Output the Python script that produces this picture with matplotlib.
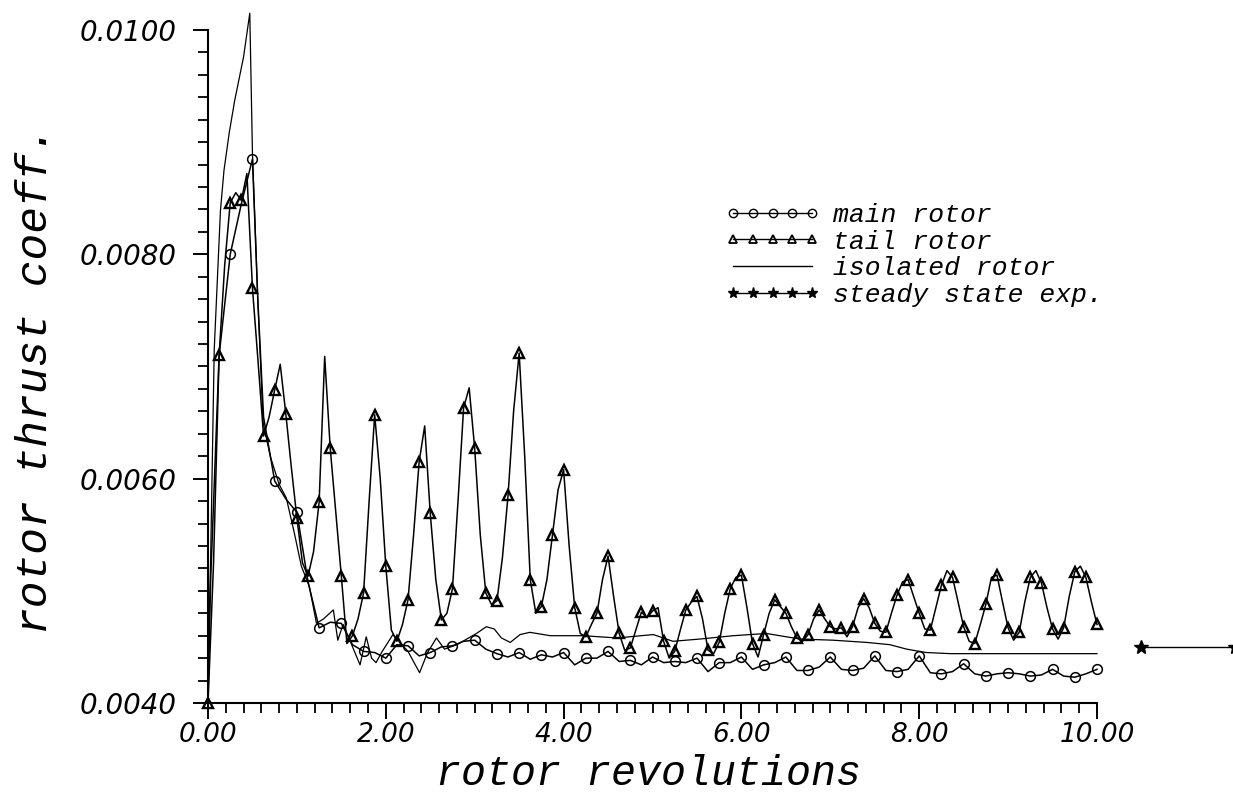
import numpy as np
import matplotlib
matplotlib.use("Agg")
import matplotlib.pyplot as plt
from matplotlib.lines import Line2D
from matplotlib.ticker import MultipleLocator

# ---------------- data (thrust coefficient in units of 1e-3) ----------------
tail_rev = np.linspace(0.0, 10.0, 161)
tail_ct = [
    4.00, 5.25, 7.10, 7.90, 8.46, 8.55, 8.48, 8.72, 7.70, 7.05,
    6.38, 6.55, 6.79, 7.02, 6.58, 6.10, 5.65, 5.25, 5.13, 5.35,
    5.79, 7.09, 6.27, 5.70, 5.13, 4.53, 4.60, 4.75, 4.98, 5.80,
    6.57, 6.00, 5.22, 4.65, 4.55, 4.70, 4.92, 5.50, 6.15, 6.47,
    5.69, 5.10, 4.74, 4.80, 5.02, 5.80, 6.63, 6.81, 6.27, 5.50,
    4.98, 4.88, 4.91, 5.30, 5.85, 6.60, 7.12, 6.20, 5.10, 4.80,
    4.86, 5.10, 5.50, 5.90, 6.08, 5.40, 4.85, 4.62, 4.59, 4.70,
    4.80, 5.10, 5.31, 4.95, 4.62, 4.47, 4.49, 4.65, 4.81, 4.76,
    4.82, 4.85, 4.55, 4.40, 4.46, 4.65, 4.83, 4.90, 4.95, 4.75,
    4.47, 4.44, 4.54, 4.80, 5.02, 5.12, 5.14, 4.85, 4.53, 4.41,
    4.61, 4.80, 4.92, 4.86, 4.80, 4.68, 4.58, 4.55, 4.61, 4.75,
    4.83, 4.75, 4.68, 4.66, 4.67, 4.59, 4.68, 4.85, 4.93, 4.85,
    4.71, 4.64, 4.63, 4.80, 4.96, 5.08, 5.10, 4.95, 4.80, 4.66,
    4.65, 4.85, 5.05, 5.18, 5.12, 4.90, 4.68, 4.55, 4.53, 4.70,
    4.88, 5.12, 5.14, 4.90, 4.67, 4.56, 4.63, 4.90, 5.12, 5.18,
    5.07, 4.85, 4.66, 4.57, 4.67, 4.95, 5.17, 5.22, 5.12, 4.90,
    4.70,
]

main_rev = [
    0.0, 0.03, 0.125, 0.25, 0.375, 0.5, 0.56, 0.625, 0.75, 0.875,
    1.0, 1.125, 1.25, 1.375, 1.5, 1.625, 1.75, 1.875, 2.0, 2.125,
    2.25, 2.375, 2.5, 2.625, 2.75, 2.875, 3.0, 3.125, 3.25, 3.375,
    3.5, 3.625, 3.75, 3.875, 4.0, 4.125, 4.25, 4.375, 4.5, 4.625,
    4.75, 4.875, 5.0, 5.125, 5.25, 5.375, 5.5, 5.625, 5.75, 5.875,
    6.0, 6.125, 6.25, 6.375, 6.5, 6.625, 6.75, 6.875, 7.0, 7.125,
    7.25, 7.375, 7.5, 7.625, 7.75, 7.875, 8.0, 8.125, 8.25, 8.375,
    8.5, 8.625, 8.75, 8.875, 9.0, 9.125, 9.25, 9.375, 9.5, 9.625,
    9.75, 9.875, 10.0,
]
main_ct = [
    4.05, 5.10, 7.10, 8.00, 8.45, 8.85, 7.60, 6.55, 5.98, 5.82,
    5.70, 5.08, 4.67, 4.72, 4.71, 4.52, 4.46, 4.45, 4.40, 4.52,
    4.51, 4.42, 4.45, 4.50, 4.51, 4.55, 4.56, 4.48, 4.44, 4.41,
    4.45, 4.39, 4.43, 4.41, 4.45, 4.34, 4.40, 4.40, 4.46, 4.37,
    4.38, 4.34, 4.41, 4.36, 4.37, 4.36, 4.40, 4.28, 4.36, 4.36,
    4.41, 4.30, 4.34, 4.36, 4.41, 4.29, 4.29, 4.32, 4.41, 4.30,
    4.29, 4.31, 4.42, 4.29, 4.28, 4.30, 4.42, 4.27, 4.26, 4.28,
    4.35, 4.26, 4.24, 4.26, 4.27, 4.26, 4.24, 4.25, 4.30, 4.24,
    4.23, 4.26, 4.30,
]

iso_rev = [
    0.0, 0.03, 0.07, 0.14, 0.18, 0.24, 0.30, 0.40, 0.47, 0.50,
    0.56, 0.62, 0.70, 0.80, 0.88, 0.97, 1.05, 1.14, 1.22, 1.30,
    1.41, 1.46, 1.52, 1.60, 1.71, 1.78, 1.84, 1.89, 1.96, 2.08,
    2.15, 2.25, 2.38, 2.47, 2.57, 2.66, 2.80, 3.02, 3.13, 3.22,
    3.30, 3.40, 3.51, 3.62, 3.85, 4.22, 4.60, 5.01, 5.23, 5.53,
    5.91, 6.28, 6.66, 7.03, 7.41, 7.67, 7.86, 8.08, 8.35, 10.0,
]
iso_ct = [
    4.30, 5.30, 7.15, 8.39, 8.75, 9.09, 9.37, 9.76, 10.15, 8.90,
    7.60, 6.50, 6.20, 5.95, 5.83, 5.52, 5.22, 5.04, 4.71, 4.75,
    4.83, 4.56, 4.70, 4.55, 4.34, 4.59, 4.40, 4.36, 4.46, 4.61,
    4.55, 4.46, 4.27, 4.45, 4.58, 4.48, 4.52, 4.62, 4.68, 4.66,
    4.58, 4.54, 4.61, 4.63, 4.60, 4.60, 4.58, 4.61, 4.55, 4.57,
    4.60, 4.62, 4.57, 4.56, 4.54, 4.52, 4.48, 4.45, 4.44, 4.44,
]

exp_rev = [10.5, 11.55]
exp_ct = [4.50, 4.50]

x_ticks = [0, 2, 4, 6, 8, 10]
x_labels = ["0.00", "2.00", "4.00", "6.00", "8.00", "10.00"]
y_ticks = [0.0040, 0.0060, 0.0080, 0.0100]
y_labels = ["0.0040", "0.0060", "0.0080", "0.0100"]

series_labels = ["main rotor", "tail rotor", "isolated rotor", "steady state exp."]

SCALE = 1e-3

# ---------------- figure ----------------
W, H = 1233, 795
fig = plt.figure(figsize=(W / 100, H / 100), dpi=100)
ax = fig.add_axes([208 / W, 1 - 703 / H, 889 / W, 673 / H])

ax.plot(iso_rev, np.array(iso_ct) * SCALE, color="black", lw=0.9,
        clip_on=False, zorder=3)

main_marks = [i for i, r in enumerate(main_rev)
              if r > 0 and abs(r / 0.25 - round(r / 0.25)) < 1e-6]
ax.plot(main_rev, np.array(main_ct) * SCALE, color="black", lw=1.1,
        marker="o", ms=7, mfc="none", mec="black", mew=1.1,
        markevery=main_marks, clip_on=False, zorder=4)

ax.plot(tail_rev, np.array(tail_ct) * SCALE, color="black", lw=1.1,
        marker="^", ms=7, mfc="none", mec="black", mew=1.7,
        markevery=2, clip_on=False, zorder=5)

ax.plot(exp_rev, np.array(exp_ct) * SCALE, color="black", lw=1.0,
        marker="*", ms=10, mfc="black", mec="black",
        clip_on=False, zorder=5)

ax.set_xlim(0, 10)
ax.set_ylim(0.0040, 0.0100)

for s in ("top", "right"):
    ax.spines[s].set_visible(False)
for s in ("left", "bottom"):
    ax.spines[s].set_linewidth(1.5)

ax.set_xticks(x_ticks)
ax.set_xticklabels(x_labels)
ax.set_yticks(y_ticks)
ax.set_yticklabels(y_labels)
ax.xaxis.set_minor_locator(MultipleLocator(0.2))
ax.yaxis.set_minor_locator(MultipleLocator(0.0002))

ax.tick_params(axis="x", which="major", direction="out", length=11.5, width=1.4, pad=2)
ax.tick_params(axis="x", which="minor", direction="out", length=7.2, width=1.3)
ax.tick_params(axis="y", which="major", direction="out", length=10.8, width=1.4, pad=12)
ax.tick_params(axis="y", which="minor", direction="out", length=7.2, width=1.3)

for lbl in ax.get_xticklabels():
    lbl.set_fontfamily("DejaVu Sans")
    lbl.set_fontstyle("oblique")
    lbl.set_fontsize(19)
for lbl in ax.get_yticklabels():
    lbl.set_fontfamily("DejaVu Sans")
    lbl.set_fontstyle("oblique")
    lbl.set_fontsize(20)

fig.text(648 / W, 1 - 794 / H, "rotor revolutions", ha="center", va="bottom",
         family="Liberation Mono", style="italic", size=30)
fig.text(36 / W, 1 - 380 / H, "rotor thrust coeff.", ha="center", va="center",
         rotation=90, family="Liberation Mono", style="italic", size=32)

handles = [
    Line2D([], [], color="black", lw=1.0, marker="o", ms=6, mfc="none", mew=1.0),
    Line2D([], [], color="black", lw=1.0, marker="^", ms=6, mfc="none", mew=1.3),
    Line2D([], [], color="black", lw=1.0),
    Line2D([], [], color="black", lw=1.0, marker="*", ms=8, mfc="black"),
]
fig.legend(handles, series_labels, loc="upper left",
           bbox_to_anchor=(725 / W, 1 - 203 / H), bbox_transform=fig.transFigure,
           frameon=False, numpoints=5, handlelength=3.6, handletextpad=0.5,
           labelspacing=0.1, borderpad=0, borderaxespad=0,
           prop=dict(family="Liberation Mono", style="italic", size=19))

fig.savefig("out.png", dpi=100)
